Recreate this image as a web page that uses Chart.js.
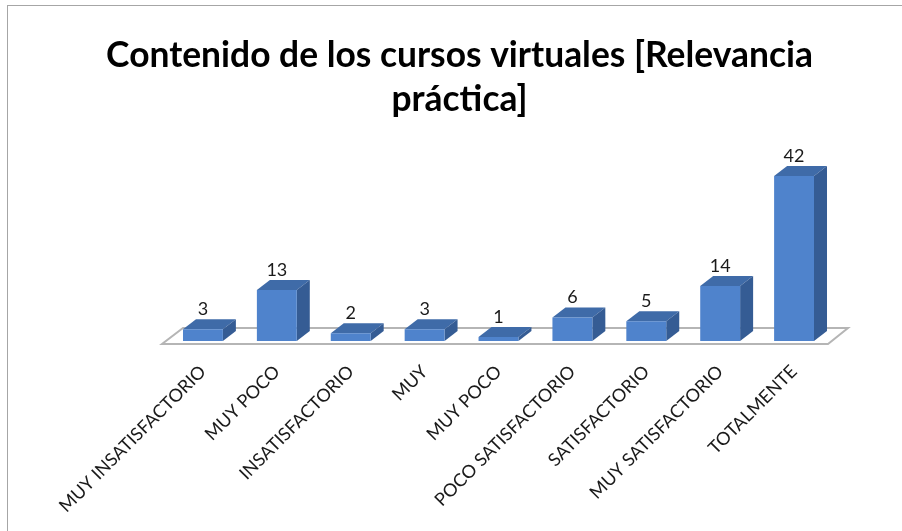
<!DOCTYPE html>
<html>
<head>
<meta charset="utf-8">
<script src="https://cdn.jsdelivr.net/npm/chart.js@4"></script>
<style>
    html, body { margin: 0; background: #fff; overflow: hidden; }
    #frame { position: absolute; left: 7px; top: 5px; right: 0; bottom: 0; border-left: 1px solid #a6a6a6; border-top: 1px solid #a6a6a6; }
    #chart { position: absolute; left: 0; top: 0; }
</style>
</head>
<body>
<div id="frame"></div>
<canvas id="chart" width="902" height="531"></canvas>
<script>
const categories = ['MUY INSATISFACTORIO', 'MUY POCO', 'INSATISFACTORIO', 'MUY', 'MUY POCO', 'POCO SATISFACTORIO', 'SATISFACTORIO', 'MUY SATISFACTORIO', 'TOTALMENTE'];
const values = [3, 13, 2, 3, 1, 6, 5, 14, 42];
const titleLines = ['Contenido de los cursos virtuales [Relevancia', 'práctica]'];

const depthX = 13;
const depthY = 10;

function poly(ctx, pts, color) {
    ctx.fillStyle = color;
    ctx.beginPath();
    pts.forEach((p, i) => i ? ctx.lineTo(p[0], p[1]) : ctx.moveTo(p[0], p[1]));
    ctx.closePath();
    ctx.fill();
}

// Floor and the top/side faces of the bars, Chart.js has no 3D bars
const bars3d = {
    id: 'bars3d',
    beforeDatasetsDraw(chart) {
        const ctx = chart.ctx;
        const area = chart.chartArea;
        const y0 = chart.scales.y.getPixelForValue(0);

        ctx.save();
        ctx.strokeStyle = '#b5b5b5';
        ctx.lineWidth = 2;
        ctx.beginPath();
        ctx.moveTo(area.left - 4, y0 + 3);
        ctx.lineTo(area.right - 3, y0 + 3);
        ctx.lineTo(area.right + 17, y0 - 13);
        ctx.lineTo(area.left + 17, y0 - 13);
        ctx.closePath();
        ctx.stroke();

        chart.getDatasetMeta(0).data.forEach(bar => {
            const left = bar.x - bar.width / 2;
            const right = bar.x + bar.width / 2;
            poly(ctx, [[left, bar.y], [right, bar.y], [right + depthX, bar.y - depthY], [left + depthX, bar.y - depthY]], '#3f6ba8');
            poly(ctx, [[right, bar.y], [right + depthX, bar.y - depthY], [right + depthX, y0 - depthY], [right, y0]], '#355c94');
        });
        ctx.restore();
    },
    afterDatasetsDraw(chart) {
        const ctx = chart.ctx;
        ctx.save();
        ctx.fillStyle = '#1a1a1a';
        ctx.font = '18px Lato';
        ctx.textAlign = 'center';
        ctx.textBaseline = 'bottom';
        chart.getDatasetMeta(0).data.forEach((bar, i) => {
            ctx.fillText(values[i], bar.x, bar.y - depthY - 1);
        });
        ctx.restore();
    }
};

new Chart(document.getElementById('chart').getContext('2d'), {
    type: 'bar',
    data: {
        labels: categories,
        datasets: [{
            data: values,
            backgroundColor: '#4f83cc',
            categoryPercentage: 1,
            barPercentage: 0.54
        }]
    },
    options: {
        responsive: false,
        animation: false,
        layout: { padding: { left: 88, right: 71, top: 33, bottom: 0 } },
        plugins: {
            legend: { display: false },
            tooltip: { enabled: false },
            title: {
                display: true,
                text: titleLines,
                color: '#000',
                font: { family: 'Lato', size: 35.4, weight: 'bold', lineHeight: 1.26 },
                padding: { top: 0, bottom: 42 }
            }
        },
        scales: {
            x: {
                grid: { display: false },
                border: { display: false },
                afterFit: s => { s.height = 190; },
                ticks: {
                    color: '#1a1a1a',
                    font: { family: 'Lato', size: 18 },
                    minRotation: 45,
                    maxRotation: 45,
                    autoSkip: false,
                    padding: 12
                }
            },
            y: {
                min: 0,
                max: 45,
                grid: { display: false },
                border: { display: false },
                ticks: { display: false },
                afterFit: s => { s.width = 78; }
            }
        }
    },
    plugins: [bars3d]
});
</script>
</body>
</html>
